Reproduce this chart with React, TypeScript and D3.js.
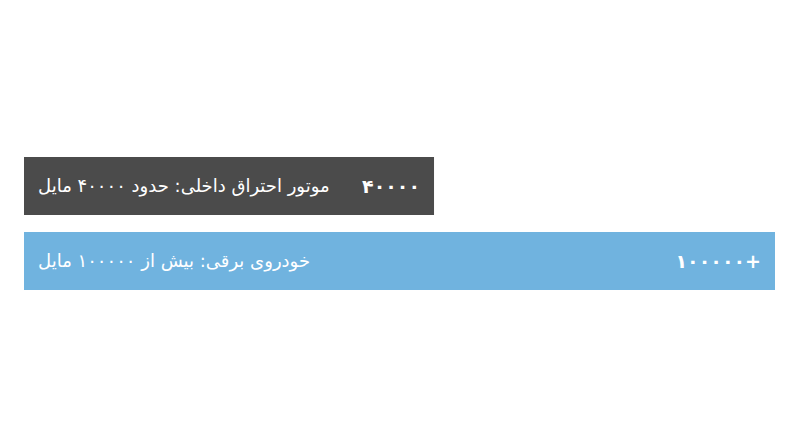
import React from "react";
import * as d3 from "d3";

const labels = ["موتور احتراق داخلی: حدود ۴۰۰۰۰ مایل", "خودروی برقی: بیش از ۱۰۰۰۰۰ مایل"];
const values = [40000, 100000];
const valueLabels = ["۴۰۰۰۰", "۱۰۰۰۰۰+"];
const colors = ["#4b4b4b", "#70b3df"];

const W = 800;
const H = 447;

export default function App() {
  const x = d3.scaleLinear().domain([0, 100000]).range([182.7, 751]);
  const y = d3.scaleBand<number>().domain([0, 1]).range([157, 290]).paddingInner(0.2267);
  const left = 24;
  const font = "'DejaVu Sans', 'Noto Sans', sans-serif";
  return (
    <svg width={W} height={H} style={{ position: "absolute", left: 0, top: 0, background: "#fff" }}>
      {values.map((v, i) => {
        const y0 = y(i) as number;
        const bh = y.bandwidth();
        const w = x(v);
        const cy = y0 + bh / 2;
        return (
          <g key={i}>
            <rect x={left} y={y0} width={w} height={bh} fill={colors[i]} />
            <text
              x={left + 14}
              y={cy}
              dy="0.35em"
              direction="rtl"
              textAnchor="end"
              fill="#fff"
              fontSize={18}
              fontFamily={font}
            >
              {labels[i]}
            </text>
            <text
              x={left + w - 14}
              y={cy}
              dy="0.35em"
              direction="ltr"
              textAnchor="end"
              fill="#fff"
              fontSize={19}
              fontWeight="bold"
              fontFamily={font}
            >
              {valueLabels[i]}
            </text>
          </g>
        );
      })}
    </svg>
  );
}
